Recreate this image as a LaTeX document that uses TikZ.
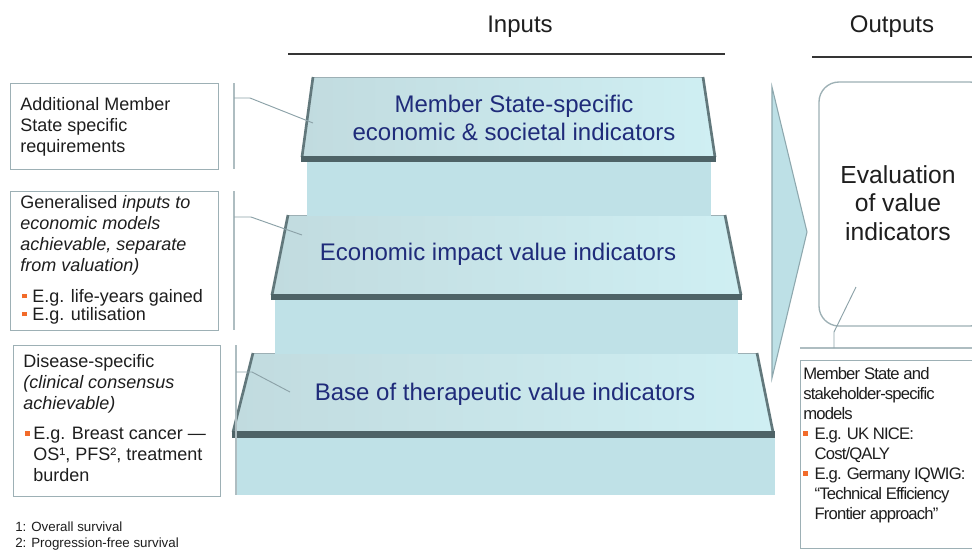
\documentclass[tikz,border=0pt]{standalone}
\usepackage{fontspec}
\setmainfont{Liberation Sans}
\newfontfamily\tightsans[LetterSpace=-5]{Liberation Sans}
\usetikzlibrary{calc}

\definecolor{inktext}{HTML}{1E1E1E}
\definecolor{navytext}{HTML}{1F2B7A}
\definecolor{bulletorange}{HTML}{F26B2A}
\definecolor{boxedge}{HTML}{9DB0B5}
\definecolor{bracketgray}{HTML}{AEBDC1}
\definecolor{connectgray}{HTML}{8CA2A8}
\definecolor{frontface}{HTML}{BFE1E7}
\definecolor{topleft}{HTML}{C1DBDF}
\definecolor{topmid}{HTML}{DDF9FC}
\definecolor{topright}{HTML}{CFEFF3}
\definecolor{rimdark}{HTML}{4E6367}
\definecolor{sidedark}{HTML}{62787C}
\definecolor{chevronfill}{HTML}{BDE0E6}
\definecolor{chevronedge}{HTML}{8EA8AE}

\newcommand{\obullet}{\textcolor{bulletorange}{\rule[0.22em]{3.6pt}{3.6pt}}}

\tikzset{
  infobox/.style={draw=boxedge, line width=1.1pt, anchor=north west, inner sep=0pt},
  boxtext/.style={anchor=north west, inner sep=0pt, align=left, text=inktext},
  steptext/.style={inner sep=0pt, align=center, text=navytext, font=\fontsize{18}{21}\selectfont},
  headtext/.style={inner sep=0pt, anchor=base, text=inktext, font=\fontsize{18}{21}\selectfont},
  headrule/.style={draw=inktext!90, line width=1.5pt},
  bracket/.style={draw=bracketgray, line width=1.6pt},
  connector/.style={draw=connectgray, line width=0.7pt},
  frontpart/.style={fill=frontface},
  toppart/.style={left color=topleft, middle color=topmid, right color=topright},
  topedge/.style={draw=boxedge, line width=0.6pt},
  sideedge/.style={draw=sidedark, line width=2pt},
  rim/.style={fill=rimdark},
}

\begin{document}
\begin{tikzpicture}[x=0.75pt, y=-0.75pt]
\useasboundingbox (0,0) rectangle (972,551);
\clip (0,0) rectangle (972,551);
\fill[white] (0,0) rectangle (972,551);

% ---- headers ----
\node[headtext] (inputs) at (520,32) {Inputs};
\node[headtext] (outputs) at (892,32) {Outputs};
\draw[headrule] (288,54) -- (725,54);
\draw[headrule] (812,57) -- (972,57);

% ---- staircase: base step ----
\fill[frontpart] (235,438) rectangle (775,495);
\shade[toppart] (253,353) -- (757,353) -- (773,432) -- (233,432) -- cycle;
\draw[topedge] (253,353) -- (757,353);
\draw[sideedge] (233,432) -- (253,353);
\draw[sideedge] (757,353) -- (773,432);
\fill[rim] (232,431) -- (775,431) -- (775,438) -- (232,438) -- cycle;

% ---- middle step ----
\fill[frontpart] (275,300) rectangle (738,354);
\shade[toppart] (288,215) -- (725,215) -- (741,295) -- (272,295) -- cycle;
\draw[topedge] (288,215) -- (725,215);
\draw[sideedge] (272,295) -- (288,215);
\draw[sideedge] (725,215) -- (741,295);
\fill[rim] (271,294) -- (742,294) -- (742,300) -- (271,300) -- cycle;

% ---- top step ----
\fill[frontpart] (307,162) rectangle (711,216);
\shade[toppart] (313,77) -- (703,77) -- (715,157) -- (302,157) -- cycle;
\draw[topedge] (313,77) -- (703,77);
\draw[sideedge] (302,157) -- (313,77);
\draw[sideedge] (703,77) -- (715,157);
\fill[rim] (301,156) -- (716,156) -- (716,162) -- (301,162) -- cycle;

% ---- step labels ----
\node[steptext, anchor=north] (mstext) at (514,94.5)
  {Member State-specific\\economic \& societal indicators};
\node[steptext, anchor=base] (econtext) at (498,260) {Economic impact value indicators};
\node[steptext, anchor=base] (basetext) at (505,400) {Base of therapeutic value indicators};

% ---- left description boxes ----
\node[infobox, minimum width=156pt, minimum height=64.5pt] (addbox) at (10,83) {};
\node[boxtext, font=\fontsize{13.5}{15.75}\selectfont] (addtext) at (20,97)
  {Additional Member\\State specific\\requirements};

\node[infobox, minimum width=156pt, minimum height=104pt] (genbox) at (10,191) {};
\node[boxtext, font=\fontsize{13.5}{15.75}\selectfont] (gentext) at (20,195)
  {Generalised \textit{inputs to}\\\textit{economic models}\\\textit{achievable, separate}\\\textit{from valuation)}};
\node[boxtext, font=\fontsize{13.5}{13.5}\selectfont] (genlist) at (22,289)
  {\makebox[7.5pt][l]{\obullet}E.g. life-years gained\\\makebox[7.5pt][l]{\obullet}E.g. utilisation};

\node[infobox, minimum width=155pt, minimum height=113pt] (disbox) at (13,345) {};
\node[boxtext, font=\fontsize{13.5}{16}\selectfont] (distext) at (23,354)
  {Disease-specific\\\textit{(clinical consensus}\\\textit{achievable)}};
\node[boxtext, font=\fontsize{13.5}{15.75}\selectfont] (dislist) at (25,427)
  {\makebox[6pt][l]{\obullet}E.g. Breast cancer —\\\hspace*{6pt}OS¹, PFS², treatment\\\hspace*{6pt}burden};

% ---- brackets and leader lines ----
\coordinate (addtop) at (234,83);   \coordinate (addbot) at (234,169);
\coordinate (gentop) at (234,191);  \coordinate (genbot) at (234,330);
\coordinate (distop) at (236,345);  \coordinate (disbot) at (236,495);
\draw[bracket] (addtop) -- (addbot);
\draw[bracket] (gentop) -- (genbot);
\draw[bracket] (distop) -- (disbot);

\coordinate (addfoot) at (234,98);   \coordinate (addtip) at (313,123);
\coordinate (genfoot) at (234,217);  \coordinate (gentip) at (302,235);
\coordinate (disfoot) at (236,372);  \coordinate (distip) at (290,392);
\draw[connector] (addfoot) -- ++(16,0) -- (addtip);
\draw[connector] (genfoot) -- ++(17,0) -- (gentip);
\draw[connector] (disfoot) -- ++(16,0) -- (distip);

% ---- footnotes ----
\node[boxtext, font=\fontsize{10}{12}\selectfont] (notes) at (15,522)
  {1: Overall survival\\2: Progression-free survival};

% ---- chevron ----
\draw[fill=chevronfill, draw=chevronedge, line width=0.8pt]
  (772,87) -- (807,232) -- (772,378) -- cycle;
\node[inner sep=0pt] (chevron) at (785,232) {};

% ---- outputs ----
\draw[draw=boxedge, line width=1pt, rounded corners=15pt] (819,82) rectangle (990,326);
\node[inner sep=0pt, align=center, anchor=north, text=inktext,
      font=\fontsize{18.5}{21.4}\selectfont] (evaltext) at (898,165)
  {Evaluation\\of value\\indicators};

\coordinate (evalfoot) at (856,287);
\coordinate (evalknee) at (834,332);
\coordinate (evalbase) at (834,348);
\draw[bracket] (800,348) -- (972,348);
\draw[connector] (evalfoot) -- (evalknee) -- (evalbase);

\node[infobox, minimum width=140pt, minimum height=141pt] (modelbox) at (800,360) {};
\node[boxtext, font=\tightsans\fontsize{12.5}{15}\selectfont] (modeltext) at (803,367)
  {Member State and\\stakeholder-specific\\models\\
   \makebox[8.5pt][l]{\obullet}E.g. UK NICE:\\
   \hspace*{8.5pt}Cost/QALY\\
   \makebox[8.5pt][l]{\obullet}E.g. Germany\ IQWIG:\\
   \hspace*{8.5pt}“Technical Efficiency\\
   \hspace*{8.5pt}Frontier approach”};
\end{tikzpicture}
\end{document}
